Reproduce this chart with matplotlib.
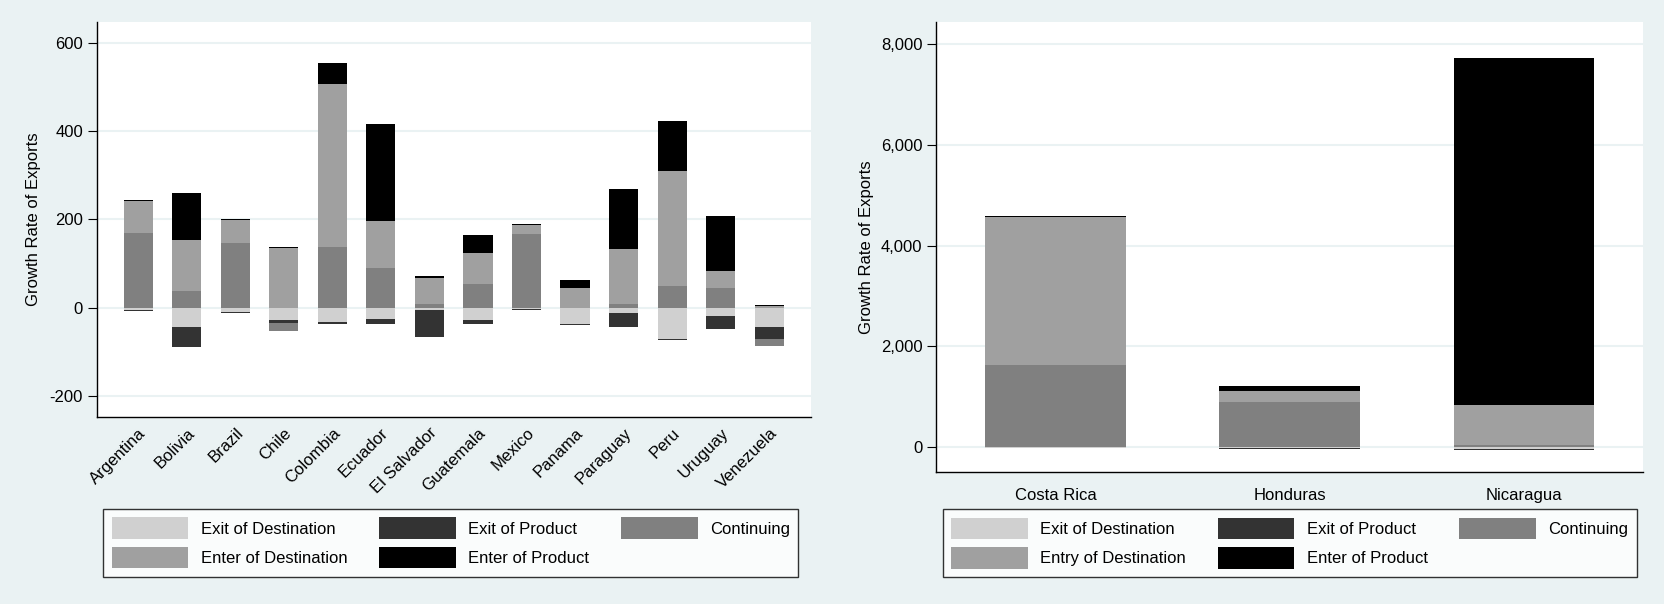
import matplotlib
matplotlib.use("Agg")
import matplotlib.pyplot as plt
from matplotlib.patches import Patch
from matplotlib.ticker import FuncFormatter
import numpy as np

plt.rcParams['font.family'] = ['Liberation Sans', 'DejaVu Sans']
plt.rcParams['axes.unicode_minus'] = False

# ---- data ----
components = ["Exit of Destination", "Exit of Product", "Continuing",
              "Enter of Destination", "Enter of Product"]
colors = ["#d0d0d0", "#333333", "#808080", "#a0a0a0", "#000000"]

countries_a = ["Argentina", "Bolivia", "Brazil", "Chile", "Colombia", "Ecuador",
               "El Salvador", "Guatemala", "Mexico", "Panama", "Paraguay",
               "Peru", "Uruguay", "Venezuela"]
exit_dest_a = [-5, -44, -10, -29, -32, -25, -5, -27, -3, -36, -13, -70, -19, -44]
exit_prod_a = [-3, -46, -3, -5, -4, -11, -62, -11, -2, -4, -32, -4, -30, -27]
continuing_a = [170, 37, 147, -19, 138, 90, 8, 54, 168, 0, 8, 50, 45, -17]
enter_dest_a = [72, 117, 51, 135, 369, 106, 60, 70, 19, 45, 126, 260, 38, 4]
enter_prod_a = [2, 107, 2, 2, 48, 221, 4, 41, 3, 17, 135, 113, 125, 2]

countries_b = ["Costa Rica", "Honduras", "Nicaragua"]
exit_dest_b = [-10, -20, -33]
exit_prod_b = [-15, -25, -35]
continuing_b = [1634, 893, 46]
enter_dest_b = [2932, 212, 788]
enter_prod_b = [33, 112, 6895]

legend_a = components
legend_b = ["Exit of Destination", "Exit of Product", "Continuing",
            "Entry of Destination", "Enter of Product"]

BG = "#eaf2f3"
GRID = "#eaf2f3"


def stacked(ax, cats, series, width=0.6):
    x = np.arange(len(cats))
    pos = np.zeros(len(cats))
    neg = np.zeros(len(cats))
    for vals, col in zip(series, colors):
        v = np.asarray(vals, dtype=float)
        base = np.where(v >= 0, pos, neg)
        ax.bar(x, v, width=width, bottom=base, color=col, edgecolor="none",
               zorder=3)
        pos = np.where(v >= 0, pos + v, pos)
        neg = np.where(v < 0, neg + v, neg)
    return x


def style(ax):
    ax.set_facecolor("white")
    for s in ("top", "right"):
        ax.spines[s].set_visible(False)
    for s in ("left", "bottom"):
        ax.spines[s].set_color("black")
        ax.spines[s].set_linewidth(1.0)
    ax.grid(axis="y", color=GRID, linewidth=1.5, zorder=0)
    ax.set_axisbelow(True)
    ax.tick_params(axis="y", length=6.5, width=0.8, pad=3.3, labelsize=12,
                   direction="out")
    ax.tick_params(axis="x", length=0, labelsize=12)
    ax.set_ylabel("Growth Rate of Exports", fontsize=12)


fig = plt.figure(figsize=(16.65, 6.04), dpi=100, facecolor=BG)

W, H = 1665.0, 604.0
axA = fig.add_axes([96.7 / W, (H - 417) / H, 714 / W, (417 - 22.3) / H])
axB = fig.add_axes([936 / W, (H - 471.7) / H, 707.5 / W, (471.7 - 22.3) / H])

# ---- left panel ----
xa = stacked(axA, countries_a, [exit_dest_a, exit_prod_a, continuing_a,
                                enter_dest_a, enter_prod_a])
style(axA)
axA.set_xlim(-0.855, len(countries_a) - 1 + 0.855)
axA.set_ylim(-248, 647)
axA.set_yticks([-200, 0, 200, 400, 600])
axA.set_xticks(xa)
axA.set_xticklabels(countries_a, rotation=45, ha="right", va="top",
                    rotation_mode="anchor")
axA.tick_params(axis="x", pad=6)
axA.yaxis.set_label_coords(-0.078, 0.5)

# ---- right panel ----
xb = stacked(axB, countries_b, [exit_dest_b, exit_prod_b, continuing_b,
                                enter_dest_b, enter_prod_b])
style(axB)
axB.set_xlim(-0.51, len(countries_b) - 1 + 0.51)
axB.set_ylim(-490, 8437)
axB.set_yticks([0, 2000, 4000, 6000, 8000])
axB.yaxis.set_major_formatter(FuncFormatter(lambda v, p: f"{int(v):,}"))
axB.set_xticks(xb)
axB.set_xticklabels(countries_b)
axB.tick_params(axis="x", pad=12)
axB.yaxis.set_label_coords(-0.0876, 0.5)


def add_legend(labels, x0, y0):
    order = [0, 3, 1, 4, 2]
    handles = [Patch(facecolor=colors[i], edgecolor="none") for i in order]
    labs = [labels[i] for i in order]
    leg = fig.legend(handles, labs, ncol=3, loc="upper left",
                     bbox_to_anchor=(x0 / W, 1 - y0 / H),
                     fontsize=12, frameon=True, fancybox=False,
                     handlelength=4.6, handleheight=1.63, handletextpad=0.75,
                     borderpad=0.5, labelspacing=0.46, columnspacing=1.9,
                     borderaxespad=0)
    fr = leg.get_frame()
    fr.set_edgecolor("black")
    fr.set_linewidth(1.0)
    fr.set_facecolor("white")
    return leg


add_legend(legend_a, 103.3, 509)
add_legend(legend_b, 942.7, 509.3)

fig.savefig("out.png", dpi=100, facecolor=BG)
